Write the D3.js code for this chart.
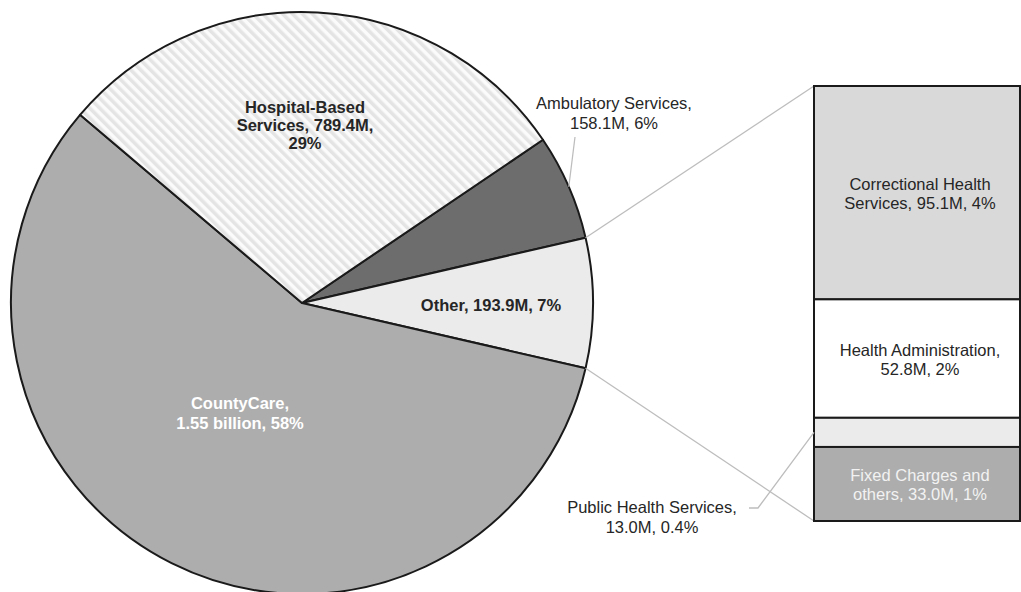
<!DOCTYPE html>
<html><head><meta charset="utf-8">
<script src="https://cdn.jsdelivr.net/npm/d3@7"></script>
<style>body{margin:0;background:#fff}svg{display:block}text{font-family:"Liberation Sans",Arial,sans-serif}</style>
</head><body>
<svg id="c" width="1021" height="592"></svg>
<script>
// Pie data (order drawn clockwise starting with Ambulatory)
const pieNames = ["Ambulatory Services", "Other", "CountyCare", "Hospital-Based Services"];
const pieValues = [158.1, 193.9, 1550, 789.4];
const pieLabels = [["Ambulatory Services,", "158.1M, 6%"], ["Other, 193.9M, 7%"], ["CountyCare,", "1.55 billion, 58%"], ["Hospital-Based", "Services, 789.4M,", "29%"]];
const pieColors = ["#6d6d6d", "#ebebeb", "#adadad", "url(#hatch)"];
// Breakdown of "Other" (stacked bar, top to bottom)
const barNames = ["Correctional Health Services", "Health Administration", "Public Health Services", "Fixed Charges and others"];
const barValues = [95.1, 52.8, 13.0, 33.0];
const barLabels = [["Correctional Health", "Services, 95.1M, 4%"], ["Health Administration,", "52.8M, 2%"], ["Public Health Services,", "13.0M, 0.4%"], ["Fixed Charges and", "others, 33.0M, 1%"]];
const barColors = ["#d9d9d9", "#ffffff", "#ebebeb", "#adadad"];

const FS = 16.5, LH = 19.5;
const svg = d3.select("#c");
const defs = svg.append("defs");
const pat = defs.append("pattern").attr("id", "hatch").attr("patternUnits", "userSpaceOnUse")
  .attr("width", 7).attr("height", 7).attr("patternTransform", "rotate(-45)");
pat.append("rect").attr("width", 7).attr("height", 7).attr("fill", "#fbfbfb");
pat.append("rect").attr("width", 3.5).attr("height", 7).attr("fill", "#e4e4e4");

const cx = 302, cy = 303, R = 291;
const total = d3.sum(pieValues);
const otherIdx = 1;
const startA = Math.PI / 2 - 2 * Math.PI * (pieValues[0] + pieValues[1] / 2) / total;
const pie = d3.pie().sort(null).value(d => d).startAngle(startA).endAngle(startA + 2 * Math.PI);
const arcs = pie(pieValues);
const arc = d3.arc().innerRadius(0).outerRadius(R);
const g = svg.append("g").attr("transform", `translate(${cx},${cy})`);

// Bar scale
const barTop = 86, barBottom = 521, barX = 814, barW = 206;
const y = d3.scaleLinear().domain([0, d3.sum(barValues)]).range([barTop, barBottom]);
const cum = barValues.map((v, i) => d3.sum(barValues.slice(0, i)));

// Connector lines from Other slice to bar
const oa = arcs[otherIdx];
const pt = a => [cx + R * Math.sin(a), cy - R * Math.cos(a)];
const p1 = pt(oa.startAngle), p2 = pt(oa.endAngle);
svg.append("line").attr("x1", p1[0]).attr("y1", p1[1]).attr("x2", barX).attr("y2", y(0))
  .attr("stroke", "#bdbdbd").attr("stroke-width", 1.3);
svg.append("line").attr("x1", p2[0]).attr("y1", p2[1]).attr("x2", barX).attr("y2", y(d3.sum(barValues)))
  .attr("stroke", "#bdbdbd").attr("stroke-width", 1.3);

g.selectAll("path").data(arcs).join("path").attr("d", arc)
  .attr("fill", (d, i) => pieColors[i]).attr("stroke", "#1a1a1a").attr("stroke-width", 2).attr("stroke-linejoin", "round");

// Pie labels
const pieLabelPos = [[614, 109], [491, 311], [240, 409], [305, 113]];
const pieLabelStyle = [{w: "normal", c: "#262626"}, {w: "bold", c: "#262626"}, {w: "bold", c: "#ffffff"}, {w: "bold", c: "#262626"}];
pieLabels.forEach((lines, i) => {
  const t = svg.append("text").attr("text-anchor", "middle").attr("font-size", FS)
    .attr("font-weight", pieLabelStyle[i].w).attr("fill", pieLabelStyle[i].c);
  lines.forEach((l, j) => t.append("tspan").attr("x", pieLabelPos[i][0]).attr("y", pieLabelPos[i][1] + j * (i === 3 ? 18 : LH)).text(l));
});
// Ambulatory leader
const am = arcs[0], amMid = (am.startAngle + am.endAngle) / 2;
const ap = pt(amMid);
svg.append("line").attr("x1", ap[0]).attr("y1", ap[1]).attr("x2", 575).attr("y2", 137)
  .attr("stroke", "#bdbdbd").attr("stroke-width", 1.3);

// Bar segments
svg.selectAll("rect.seg").data(barValues).join("rect").attr("class", "seg")
  .attr("x", barX).attr("width", barW)
  .attr("y", (d, i) => y(cum[i])).attr("height", d => y(d) - y(0))
  .attr("fill", (d, i) => barColors[i]).attr("stroke", "#1a1a1a").attr("stroke-width", 2);

// Bar labels
const barLabelColors = ["#262626", "#262626", "#262626", "#f2f2f2"];
barLabels.forEach((lines, i) => {
  let x0, y0;
  if (i === 2) { x0 = 652; y0 = 513; }
  else { x0 = barX + barW / 2 + 3; y0 = (y(cum[i]) + y(cum[i] + barValues[i])) / 2 - 3; }
  const t = svg.append("text").attr("text-anchor", "middle").attr("font-size", FS).attr("fill", barLabelColors[i]);
  lines.forEach((l, j) => t.append("tspan").attr("x", x0).attr("y", y0 + j * LH).text(l));
});
// Public Health leader
const phY = (y(cum[2]) + y(cum[2] + barValues[2])) / 2;
svg.append("polyline").attr("points", `749,508 758,508 ${barX},${phY}`)
  .attr("fill", "none").attr("stroke", "#bdbdbd").attr("stroke-width", 1.3);
</script>
</body></html>
